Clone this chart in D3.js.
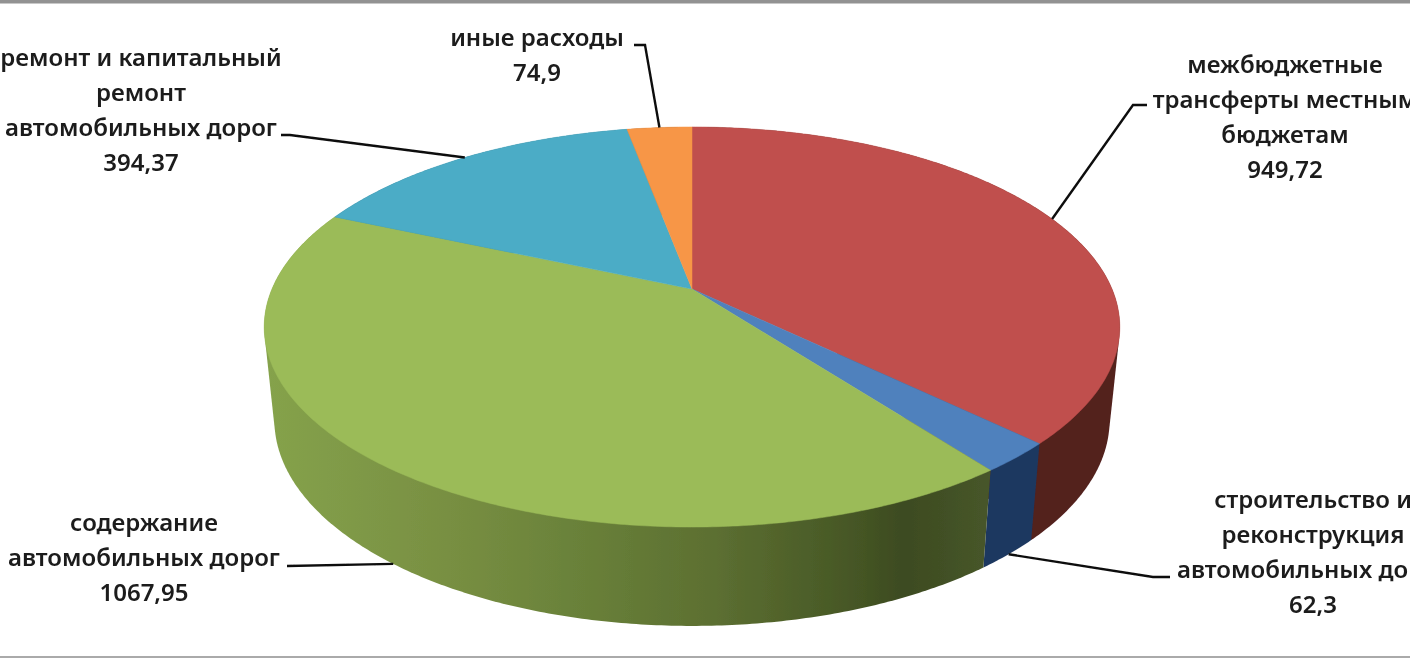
<!DOCTYPE html>
<html>
<head>
<meta charset="utf-8">
<style>
  html, body { margin: 0; padding: 0; background: #fff; overflow: hidden; }
  svg { display: block; }
  text { font-family: "Noto Sans", sans-serif; font-size: 24px; font-weight: 600; fill: #1a1a1a; text-anchor: middle; }
</style>
<script src="https://cdn.jsdelivr.net/npm/d3@7"></script>
</head>
<body>
<div id="chart"></div>
<script>
const categories = [
  ["межбюджетные", "трансферты местным", "бюджетам"],
  ["строительство и", "реконструкция", "автомобильных дорог"],
  ["содержание", "автомобильных дорог"],
  ["ремонт и капитальный", "ремонт", "автомобильных дорог"],
  ["иные расходы"]
];
const values = [949.72, 62.3, 1067.95, 394.37, 74.9];
const topColors = ["#c0504d", "#4f81bd", "#9bbb59", "#4bacc6", "#f79646"];
const sideColors = ["#52201e", "#1f3860", "url(#greenSide)", "#2a6475", "#94592a"];

// where each label block sits: centre x, first baseline, and the knee of its leader
const labelX = [1285, 1313, 144, 141, 537];
const labelY = [72.5, 507.5, 530.5, 66, 45.5];
const lineGap = 35;
const knees = [
  [[1147, 105], [1133, 105]],
  [[1170, 577], [1153, 577]],
  [[287, 566]],
  [[281, 135], [290, 135]],
  [[634, 45], [645, 45]]
];
const greenStops = [
  [0, "#85a24b"], [0.25, "#788f42"], [0.42, "#6a823a"], [0.62, "#5c6f31"],
  [0.8, "#475826"], [0.88, "#3d4b20"], [1, "#47562a"]
];

const width = 1410, height = 658;
const cx = 692;

// perspective tilt of the disc, top face and bottom face
const topFace = { k: 420, a: 137.9, b: 289, c: -0.19 };
const bottomFace = { k: 410, a: 126.1, b: 380.9, c: -0.19 };

const project = (face, t) => {
  const u = Math.sin(t), v = -Math.cos(t);
  const w = 1 + face.c * v;
  return [cx + face.k * u / w, (face.a * v + face.b) / w];
};
const arcPoints = (face, t0, t1) => {
  const n = Math.max(2, Math.ceil((t1 - t0) / 0.01));
  return d3.range(n + 1).map(i => project(face, t0 + (t1 - t0) * i / n));
};

const svg = d3.select("#chart").append("svg")
  .attr("width", width)
  .attr("height", height)
  .attr("viewBox", `0 0 ${width} ${height}`);

const defs = svg.append("defs");
defs.append("filter").attr("id", "soft")
  .attr("filterUnits", "userSpaceOnUse")
  .attr("x", 0).attr("y", 0)
  .attr("width", width).attr("height", height)
  .append("feGaussianBlur").attr("stdDeviation", 0.6);

const grad = defs.append("linearGradient").attr("id", "greenSide")
  .attr("gradientUnits", "userSpaceOnUse")
  .attr("x1", 268).attr("x2", 990).attr("y1", 0).attr("y2", 0);
grad.selectAll("stop").data(greenStops).enter().append("stop")
  .attr("offset", d => d[0])
  .attr("stop-color", d => d[1]);

const root = svg.append("g").attr("filter", "url(#soft)");

// frame of the screenshot
root.append("rect").attr("width", width).attr("height", 3.5).attr("fill", "#929292");
root.append("rect").attr("y", 656).attr("width", width).attr("height", 2).attr("fill", "#aaa");

const slices = d3.pie().sort(null).value(d => d)(values);
const line = d3.line();

// sides first, then the top faces over them. A hull keeps the straight edge
// between the two rims at the far left and right of the disc
root.selectAll("path.side").data(slices).enter().append("path")
  .attr("class", "side")
  .attr("d", d => line(d3.polygonHull(arcPoints(topFace, d.startAngle, d.endAngle)
    .concat(arcPoints(bottomFace, d.startAngle, d.endAngle)))) + "Z")
  .attr("fill", (d, i) => sideColors[i]);

root.selectAll("path.face").data(slices).enter().append("path")
  .attr("class", "face")
  .attr("d", d => line([[cx, topFace.b]].concat(arcPoints(topFace, d.startAngle, d.endAngle))) + "Z")
  .attr("fill", (d, i) => topColors[i])
  .attr("stroke", (d, i) => topColors[i])
  .attr("stroke-width", 0.5);

// leaders run to the middle of each slice, front slices to the lower rim
root.selectAll("path.leader").data(slices).enter().append("path")
  .attr("class", "leader")
  .attr("d", (d, i) => {
    const mid = (d.startAngle + d.endAngle) / 2;
    const front = i === 1 || i === 2;
    const end = project(front ? bottomFace : topFace, mid);
    return line(knees[i].concat([end]));
  })
  .attr("fill", "none")
  .attr("stroke", "#111")
  .attr("stroke-width", 2.4);

const labels = root.selectAll("text.label").data(categories).enter().append("text")
  .attr("class", "label")
  .attr("y", (d, i) => labelY[i]);
labels.selectAll("tspan")
  .data((d, i) => d.concat(String(values[i]).replace(".", ",")).map(s => ({ s, i })))
  .enter().append("tspan")
  .attr("x", d => labelX[d.i])
  .attr("dy", (d, j) => j === 0 ? 0 : lineGap)
  .text(d => d.s);
</script>
</body>
</html>
